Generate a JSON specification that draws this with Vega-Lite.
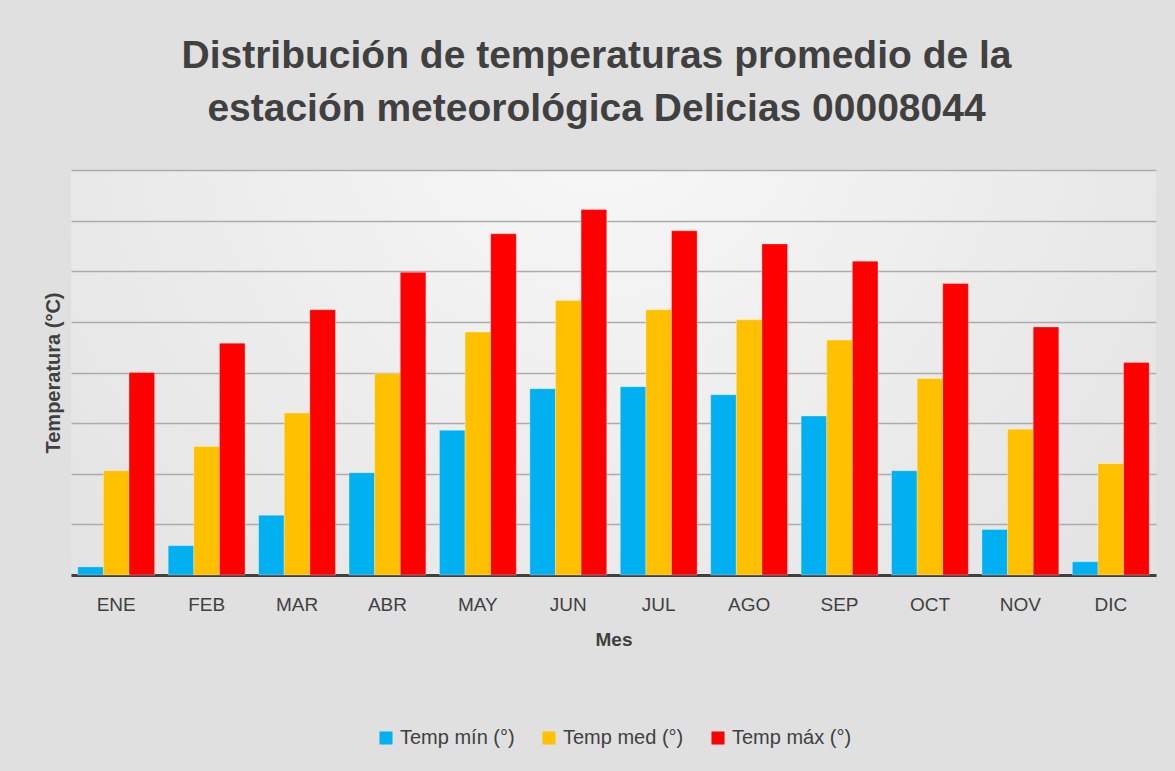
{
  "$schema": "https://vega.github.io/schema/vega-lite/v6.json",
  "autosize": {"type": "none"},
  "width": 1085,
  "height": 405,
  "padding": {"left": 71, "top": 170, "right": 19, "bottom": 196},
  "background": "#e0e0e0",
  "title": {
    "text": ["Distribución de temperaturas promedio de la", "estación meteorológica Delicias 00008044"],
    "font": "Liberation Sans",
    "fontSize": 39,
    "fontWeight": "bold",
    "color": "#404040",
    "anchor": "middle",
    "dx": -17,
    "offset": 41,
    "lineHeight": 53
  },
  "data": {
    "values": [
      {"mes": "ENE", "serie": "Temp mín (°)", "valor": 0.8},
      {"mes": "ENE", "serie": "Temp med (°)", "valor": 10.3},
      {"mes": "ENE", "serie": "Temp máx (°)", "valor": 20.0},
      {"mes": "FEB", "serie": "Temp mín (°)", "valor": 2.9},
      {"mes": "FEB", "serie": "Temp med (°)", "valor": 12.7},
      {"mes": "FEB", "serie": "Temp máx (°)", "valor": 22.9},
      {"mes": "MAR", "serie": "Temp mín (°)", "valor": 5.9},
      {"mes": "MAR", "serie": "Temp med (°)", "valor": 16.0},
      {"mes": "MAR", "serie": "Temp máx (°)", "valor": 26.2},
      {"mes": "ABR", "serie": "Temp mín (°)", "valor": 10.1},
      {"mes": "ABR", "serie": "Temp med (°)", "valor": 19.9},
      {"mes": "ABR", "serie": "Temp máx (°)", "valor": 29.9},
      {"mes": "MAY", "serie": "Temp mín (°)", "valor": 14.3},
      {"mes": "MAY", "serie": "Temp med (°)", "valor": 24.0},
      {"mes": "MAY", "serie": "Temp máx (°)", "valor": 33.7},
      {"mes": "JUN", "serie": "Temp mín (°)", "valor": 18.4},
      {"mes": "JUN", "serie": "Temp med (°)", "valor": 27.1},
      {"mes": "JUN", "serie": "Temp máx (°)", "valor": 36.1},
      {"mes": "JUL", "serie": "Temp mín (°)", "valor": 18.6},
      {"mes": "JUL", "serie": "Temp med (°)", "valor": 26.2},
      {"mes": "JUL", "serie": "Temp máx (°)", "valor": 34.0},
      {"mes": "AGO", "serie": "Temp mín (°)", "valor": 17.8},
      {"mes": "AGO", "serie": "Temp med (°)", "valor": 25.2},
      {"mes": "AGO", "serie": "Temp máx (°)", "valor": 32.7},
      {"mes": "SEP", "serie": "Temp mín (°)", "valor": 15.7},
      {"mes": "SEP", "serie": "Temp med (°)", "valor": 23.2},
      {"mes": "SEP", "serie": "Temp máx (°)", "valor": 31.0},
      {"mes": "OCT", "serie": "Temp mín (°)", "valor": 10.3},
      {"mes": "OCT", "serie": "Temp med (°)", "valor": 19.4},
      {"mes": "OCT", "serie": "Temp máx (°)", "valor": 28.8},
      {"mes": "NOV", "serie": "Temp mín (°)", "valor": 4.5},
      {"mes": "NOV", "serie": "Temp med (°)", "valor": 14.4},
      {"mes": "NOV", "serie": "Temp máx (°)", "valor": 24.5},
      {"mes": "DIC", "serie": "Temp mín (°)", "valor": 1.3},
      {"mes": "DIC", "serie": "Temp med (°)", "valor": 11.0},
      {"mes": "DIC", "serie": "Temp máx (°)", "valor": 21.0}
    ]
  },
  "mark": {"type": "bar", "stroke": "#ffffff", "strokeWidth": 0.6, "strokeOpacity": 0.5},
  "encoding": {
    "x": {
      "field": "mes",
      "type": "nominal",
      "sort": ["ENE", "FEB", "MAR", "ABR", "MAY", "JUN", "JUL", "AGO", "SEP", "OCT", "NOV", "DIC"],
      "scale": {"paddingInner": 0.15, "paddingOuter": 0.075},
      "axis": {
        "title": "Mes",
        "labelAngle": 0,
        "labelFont": "Liberation Sans",
        "labelFontSize": 19,
        "labelColor": "#404040",
        "labelPadding": 20,
        "ticks": false,
        "domainColor": "#404040",
        "domainWidth": 3,
        "titleFont": "Liberation Sans",
        "titleFontSize": 19,
        "titleFontWeight": "bold",
        "titleColor": "#404040",
        "titlePadding": 16
      }
    },
    "xOffset": {
      "field": "serie",
      "type": "nominal",
      "sort": ["Temp mín (°)", "Temp med (°)", "Temp máx (°)"],
      "scale": {"paddingInner": 0, "paddingOuter": 0}
    },
    "y": {
      "field": "valor",
      "type": "quantitative",
      "scale": {"domain": [0, 40], "nice": false},
      "axis": {
        "title": "Temperatura (°C)",
        "values": [0, 5, 10, 15, 20, 25, 30, 35, 40],
        "labels": false,
        "ticks": false,
        "domain": false,
        "grid": true,
        "gridColor": "#acacac",
        "gridWidth": 1.6,
        "titleFont": "Liberation Sans",
        "titleFontSize": 20,
        "titleFontWeight": "bold",
        "titleColor": "#404040",
        "titlePadding": 8
      }
    },
    "color": {
      "field": "serie",
      "type": "nominal",
      "sort": ["Temp mín (°)", "Temp med (°)", "Temp máx (°)"],
      "scale": {
        "domain": ["Temp mín (°)", "Temp med (°)", "Temp máx (°)"],
        "range": ["#00B0F0", "#FFC000", "#FF0000"]
      },
      "legend": {
        "title": null,
        "orient": "bottom",
        "direction": "horizontal",
        "symbolType": "square",
        "symbolSize": 170,
        "symbolStrokeWidth": 0,
        "symbolOpacity": 1,
        "labelFont": "Liberation Sans",
        "labelFontSize": 20,
        "labelColor": "#404040",
        "columnPadding": 24,
        "offset": 79
      }
    }
  },
  "config": {
    "legend": {"layout": {"anchor": "middle", "bottom": {"anchor": "middle"}}},
    "view": {
      "stroke": null,
      "fill": {
        "gradient": "radial",
        "x1": 0.49, "y1": 0.25, "r1": 0,
        "x2": 0.49, "y2": 0.25, "r2": 0.75,
        "stops": [
          {"offset": 0, "color": "#f8f8f8"},
          {"offset": 1, "color": "#e0e0e0"}
        ]
      }
    }
  }
}
